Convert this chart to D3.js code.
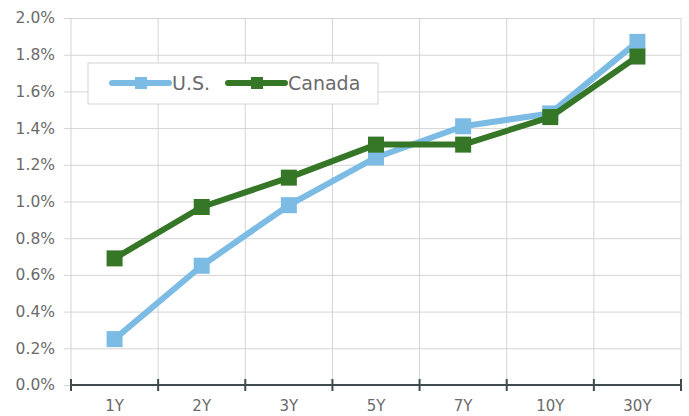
<!DOCTYPE html>
<html>
<head>
<meta charset="utf-8">
<script src="https://cdn.jsdelivr.net/npm/d3@7"></script>
<style>
  body { margin: 0; background: #fff; }
  text { font-family: "DejaVu Sans", sans-serif; fill: #6a6a6a; }
</style>
</head>
<body>
<div id="chart"></div>
<script>
// data
var categories = ['1Y', '2Y', '3Y', '5Y', '7Y', '10Y', '30Y'];
var usValues = [0.25, 0.65, 0.98, 1.24, 1.41, 1.48, 1.87];
var canadaValues = [0.69, 0.97, 1.13, 1.31, 1.31, 1.46, 1.79];
var yTicks = [0, 0.2, 0.4, 0.6, 0.8, 1.0, 1.2, 1.4, 1.6, 1.8, 2.0];

var series = [
    {name: 'U.S.', values: usValues, color: '#7cbbe3'},
    {name: 'Canada', values: canadaValues, color: '#357627'}
];

var width = 689, height = 416;
var margin = {top: 18, right: 8, bottom: 31, left: 71};
var innerW = width - margin.left - margin.right;
var innerH = height - margin.top - margin.bottom;

var svg = d3.select('#chart').append('svg')
    .attr('width', width)
    .attr('height', height);
var chart = svg.append('g')
    .attr('transform', `translate(${margin.left}, ${margin.top})`);

var xScale = d3.scaleBand().domain(categories).range([0, innerW]);
var yScale = d3.scaleLinear().domain([0, 2.0]).range([innerH, 0]);

// horizontal grid + y labels
var yAxis = d3.axisLeft(yScale)
    .tickValues(yTicks)
    .tickSize(-innerW)
    .tickPadding(8)
    .tickFormat((d) => d.toFixed(1) + '%');
var yAxisG = chart.append('g').attr('class', 'y-axis').call(yAxis);
yAxisG.select('.domain').remove();
yAxisG.selectAll('.tick line')
    .attr('stroke', '#d4d4d4')
    .attr('x1', -7);
yAxisG.selectAll('.tick text')
    .attr('font-size', '15.5px')
    .attr('x', -16);

// vertical grid
var bounds = categories.map((c) => xScale(c)).concat([innerW]);
chart.append('g').selectAll('line.vgrid')
    .data(bounds)
    .enter().append('line')
    .attr('class', 'vgrid')
    .attr('x1', (d) => d).attr('x2', (d) => d)
    .attr('y1', 0).attr('y2', innerH)
    .attr('stroke', '#d4d4d4');

// bottom axis
var axisG = chart.append('g').attr('transform', `translate(0, ${innerH})`);
axisG.append('line')
    .attr('x1', 0).attr('x2', innerW)
    .attr('stroke', '#404b4b').attr('stroke-width', 2);
axisG.selectAll('line.tick')
    .data(bounds)
    .enter().append('line')
    .attr('class', 'tick')
    .attr('x1', (d) => d).attr('x2', (d) => d)
    .attr('y1', -6).attr('y2', 6)
    .attr('stroke', '#404b4b').attr('stroke-width', 2);
axisG.selectAll('text')
    .data(categories)
    .enter().append('text')
    .attr('x', (d) => xScale(d) + xScale.bandwidth() / 2)
    .attr('y', 26)
    .attr('text-anchor', 'middle')
    .attr('font-size', '15px')
    .text((d) => d);

// lines + markers
var line = d3.line()
    .x((d, i) => xScale(categories[i]) + xScale.bandwidth() / 2)
    .y((d) => yScale(d));
var ms = 16;
series.forEach((s) => {
    chart.append('path')
        .datum(s.values)
        .attr('d', line)
        .attr('fill', 'none')
        .attr('stroke', s.color)
        .attr('stroke-width', 6)
        .attr('stroke-linejoin', 'round');
    chart.selectAll(null)
        .data(s.values)
        .enter().append('rect')
        .attr('x', (d, i) => xScale(categories[i]) + xScale.bandwidth() / 2 - ms / 2)
        .attr('y', (d) => yScale(d) - ms / 2)
        .attr('width', ms).attr('height', ms)
        .attr('fill', s.color);
});

// legend
var legend = svg.append('g').attr('transform', 'translate(88, 63)');
legend.append('rect')
    .attr('width', 290).attr('height', 41)
    .attr('fill', '#fff')
    .attr('stroke', '#d4d4d4');
var legendX = [24, 140];
series.forEach((s, i) => {
    var g = legend.append('g').attr('transform', `translate(${legendX[i]}, 20)`);
    g.append('line')
        .attr('x1', 0).attr('x2', 57)
        .attr('stroke', s.color).attr('stroke-width', 6)
        .attr('stroke-linecap', 'round');
    g.append('rect')
        .attr('x', 23).attr('y', -6)
        .attr('width', 12).attr('height', 12)
        .attr('fill', s.color);
    g.append('text')
        .attr('x', 60)
        .attr('y', 7)
        .attr('font-size', '19px')
        .text(s.name);
});
</script>
</body>
</html>
